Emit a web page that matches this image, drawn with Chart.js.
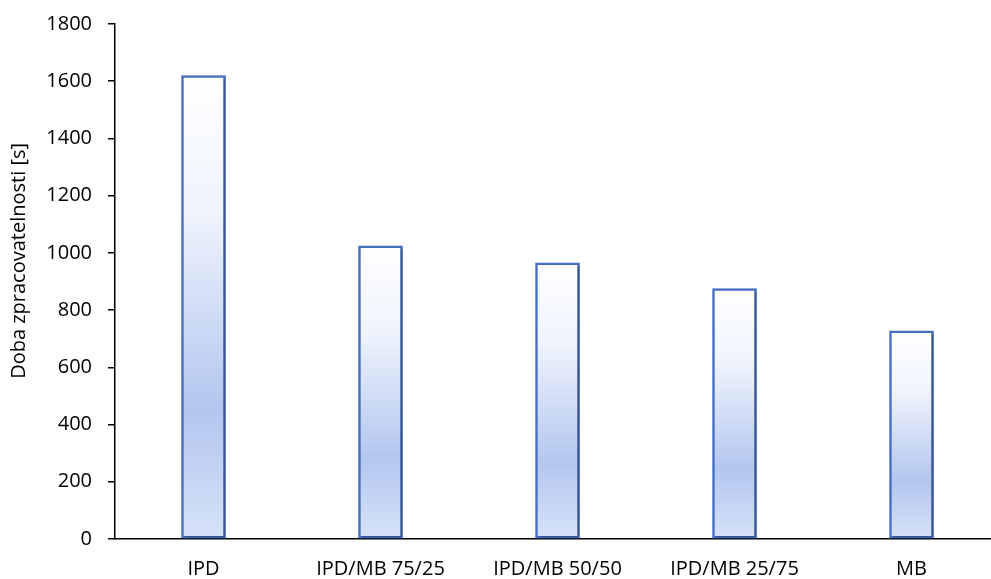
<!DOCTYPE html>
<html>
<head>
<meta charset="utf-8">
<script src="https://cdn.jsdelivr.net/npm/chart.js@4.4.1/dist/chart.umd.min.js"></script>
<style>
  html, body { margin: 0; padding: 0; background: #fff; overflow: hidden; }
  #wrap { width: 1000px; height: 583px; position: relative; top: -4px; }
</style>
</head>
<body>
<div id="wrap"><canvas id="c"></canvas></div>
<script>
// Processing time per mix
const categories = ['IPD', 'IPD/MB 75/25', 'IPD/MB 50/50', 'IPD/MB 25/75', 'MB'];
const times = [1620, 1025, 965, 875, 728];
const yTicks = [0, 200, 400, 600, 800, 1000, 1200, 1400, 1600, 1800];
const yTitle = 'Doba zpracovatelnosti [s]';

const FONT = '"Open Sans", Lato, sans-serif';
const FONT_SIZE = 20;

// Vertical gradient per bar: white at the top, deepest blue about three quarters down
function barFill(ctx) {
  const chart = ctx.chart;
  const ys = chart.scales && chart.scales.y;
  if (!ys || typeof ctx.raw !== 'number') return '#c4d4f3';
  const top = ys.getPixelForValue(ctx.raw);
  const base = ys.getPixelForValue(0);
  if (!isFinite(top) || !isFinite(base) || top === base) return '#c4d4f3';
  const g = chart.ctx.createLinearGradient(0, top, 0, base);
  g.addColorStop(0, '#ffffff');
  g.addColorStop(0.3, '#eef3fc');
  g.addColorStop(0.72, '#b3c6ef');
  g.addColorStop(1, '#d6e2f8');
  return g;
}

// Soft drop shadow under the bars
const barShadow = {
  id: 'barShadow',
  beforeDatasetsDraw(chart) {
    const c = chart.ctx;
    c.save();
    c.shadowColor = 'rgba(0,0,0,0.35)';
    c.shadowOffsetX = 1.5;
    c.shadowOffsetY = 1;
    c.shadowBlur = 2;
  },
  afterDatasetsDraw(chart) {
    chart.ctx.restore();
  }
};

// Rotated axis title beside the value axis
const axisTitle = {
  id: 'axisTitle',
  afterDraw(chart) {
    const a = chart.chartArea;
    const c = chart.ctx;
    c.save();
    c.translate(19, a.top + (a.bottom - a.top) * 0.46);
    c.rotate(-Math.PI / 2);
    c.font = FONT_SIZE + 'px ' + FONT;
    c.fillStyle = '#000';
    c.textAlign = 'center';
    c.textBaseline = 'middle';
    c.fillText(yTitle, 0, 0);
    c.restore();
  }
};

new Chart(document.getElementById('c'), {
  type: 'bar',
  data: {
    labels: categories,
    datasets: [{
      data: times,
      backgroundColor: barFill,
      borderColor: '#4770c4',
      borderWidth: 2.5,
      borderSkipped: false,
      barThickness: 44
    }]
  },
  options: {
    responsive: true,
    maintainAspectRatio: false,
    animation: false,
    layout: { padding: { top: 23, right: 0, left: 0, bottom: 0 } },
    plugins: { legend: { display: false }, tooltip: { enabled: false } },
    scales: {
      x: {
        grid: { display: false },
        border: { display: true, color: '#000', width: 1.5 },
        ticks: { color: '#000', font: { family: FONT, size: FONT_SIZE }, padding: 10, maxRotation: 0 },
        afterFit: s => { s.height = 40; }
      },
      y: {
        min: 0,
        max: 1800,
        afterBuildTicks: s => { s.ticks = yTicks.map(v => ({ value: v })); },
        grid: { display: true, drawOnChartArea: false, drawTicks: true, tickLength: 7, color: '#000', lineWidth: 1.5 },
        border: { display: true, color: '#000', width: 1.5 },
        ticks: { color: '#000', font: { family: FONT, size: FONT_SIZE }, padding: 16, callback: v => String(v) },
        afterFit: s => { s.width = 115; }
      }
    }
  },
  plugins: [barShadow, axisTitle]
});
</script>
</body>
</html>
